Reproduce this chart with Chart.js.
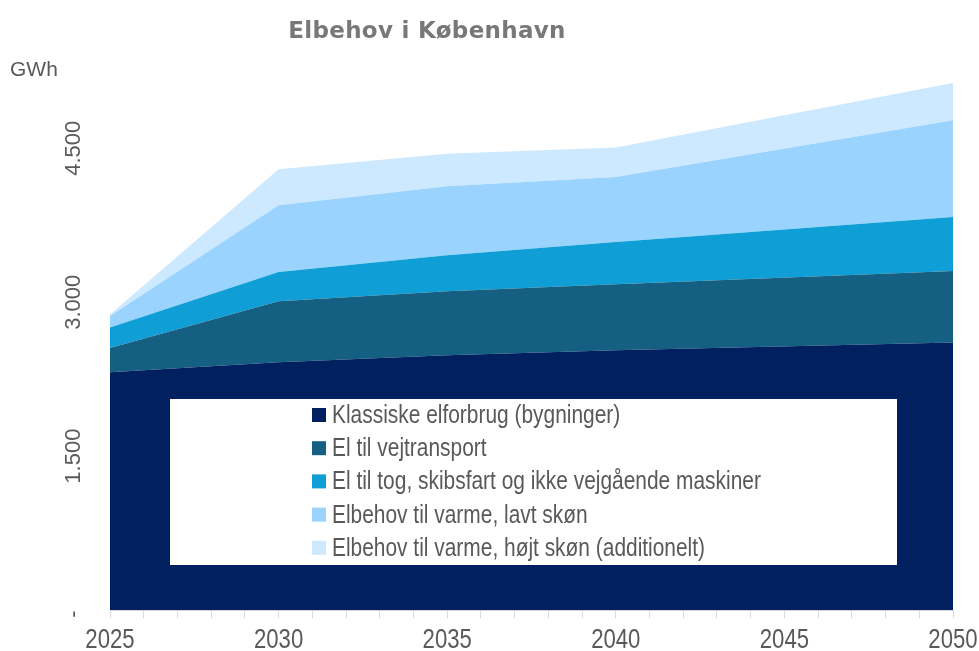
<!DOCTYPE html>
<html>
<head>
<meta charset="utf-8">
<script src="https://cdn.jsdelivr.net/npm/chart.js@4.4.1/dist/chart.umd.min.js"></script>
<style>
  html, body { margin: 0; padding: 0; background: #ffffff; }
  #wrap { position: relative; width: 979px; height: 651px; }
</style>
</head>
<body>
<div id="wrap"><canvas id="c" width="979" height="651"></canvas></div>
<script>
// ---- Data (GWh) ----
const years = [2025, 2030, 2035, 2040, 2050];
const klassiskElforbrug = [2318, 2416, 2484, 2532, 2607];
const elVejtransport = [237, 594, 623, 643, 698];
const elTogSkibsfart = [198, 285, 351, 412, 526];
const varmeLavtSkoen = [112, 650, 672, 633, 942];
const varmeHoejtSkoen = [15, 350, 318, 287, 363];
const seriesLabels = [
  "Klassiske elforbrug (bygninger)",
  "El til vejtransport",
  "El til tog, skibsfart og ikke vejgående maskiner",
  "Elbehov til varme, lavt skøn",
  "Elbehov til varme, højt skøn (additionelt)"
];
const yTickValues = [0, 1500, 3000, 4500];
const xLabelYears = [2025, 2030, 2035, 2040, 2045, 2050];
const titleText = "Elbehov i København";
const unitText = "GWh";

const colors = ["#012060", "#156082", "#0f9ed5", "#99d3fe", "#cce9ff"];
const seriesValues = [klassiskElforbrug, elVejtransport, elTogSkibsfart, varmeLavtSkoen, varmeHoejtSkoen];

function fmt(v) {
  if (v === 0) return "-";
  return String(v).replace(/\B(?=(\d{3})+(?!\d))/g, ".");
}

const datasets = seriesValues.map((vals, i) => ({
  label: seriesLabels[i],
  data: years.map((yr, j) => ({ x: yr, y: vals[j] })),
  backgroundColor: colors[i],
  borderColor: colors[i],
  borderWidth: 0,
  pointRadius: 0,
  pointHoverRadius: 0,
  tension: 0,
  fill: i === 0 ? "origin" : "-1"
}));

// draw horizontally condensed text (narrow font look)
function narrowText(ctx, text, x, y, sx, align) {
  ctx.save();
  ctx.translate(x, y);
  ctx.scale(sx, 1);
  ctx.textAlign = align;
  ctx.fillText(text, 0, 0);
  ctx.restore();
}

const overlay = {
  id: "overlay",
  afterDraw(chart) {
    const ctx = chart.ctx;
    const ys = chart.scales.y;
    const xs = chart.scales.x;
    ctx.save();
    // Title
    ctx.fillStyle = "#787878";
    ctx.font = "bold 23px 'DejaVu Sans', sans-serif";
    try { ctx.letterSpacing = "0.3px"; } catch (e) {}
    ctx.textAlign = "center";
    ctx.textBaseline = "alphabetic";
    ctx.fillText(titleText, 427, 38);
    try { ctx.letterSpacing = "0px"; } catch (e) {}
    // Unit
    ctx.fillStyle = "#595959";
    ctx.font = "21px 'Liberation Sans', Arial, sans-serif";
    ctx.textAlign = "left";
    ctx.fillText(unitText, 10, 76);
    // Y tick labels (rotated)
    ctx.font = "22px 'Liberation Sans', Arial, sans-serif";
    ctx.textAlign = "center";
    ctx.textBaseline = "middle";
    yTickValues.forEach(v => {
      const py = ys.getPixelForValue(v);
      ctx.save();
      ctx.translate(74, v === 0 ? py + 4 : py);
      ctx.rotate(-Math.PI / 2);
      ctx.fillText(fmt(v), 0, 0);
      ctx.restore();
    });
    // X tick labels
    ctx.font = "27px 'Liberation Sans', Arial, sans-serif";
    ctx.textBaseline = "alphabetic";
    ctx.fillStyle = "#595959";
    xLabelYears.forEach(yr => {
      narrowText(ctx, String(yr), xs.getPixelForValue(yr), 648, 0.82, "center");
    });
    // Legend box
    ctx.fillStyle = "#ffffff";
    ctx.fillRect(170, 399, 727, 166);
    ctx.font = "25.5px 'Liberation Sans', Arial, sans-serif";
    ctx.textBaseline = "middle";
    chart.data.datasets.forEach((ds, i) => {
      const cy = 415 + i * 33.2;
      ctx.fillStyle = ds.backgroundColor;
      ctx.fillRect(312, cy - 7, 14, 14);
      ctx.fillStyle = "#595959";
      narrowText(ctx, ds.label, 332, cy + 1, 0.82, "left");
    });
    ctx.restore();
  }
};

new Chart(document.getElementById("c"), {
  type: "line",
  data: { datasets },
  options: {
    responsive: false,
    animation: false,
    layout: { padding: { left: 0, right: 26, top: 56, bottom: 0 } },
    plugins: {
      legend: { display: false },
      title: { display: false },
      tooltip: { enabled: false }
    },
    scales: {
      x: {
        type: "linear",
        min: 2025,
        max: 2050,
        afterFit(s) { s.height = 41; },
        border: { display: true, color: "#d9d9d9", width: 1 },
        grid: { display: true, drawOnChartArea: false, drawTicks: true, tickLength: 8, color: "#d9d9d9" },
        ticks: {
          stepSize: 1,
          autoSkip: false,
          maxRotation: 0,
          minRotation: 0,
          display: false
        }
      },
      y: {
        stacked: true,
        min: 0,
        max: 5400,
        afterFit(s) { s.width = 110; },
        afterBuildTicks(s) { s.ticks = yTickValues.map(v => ({ value: v })); },
        border: { display: false },
        grid: { display: false },
        ticks: { display: false }
      }
    }
  },
  plugins: [overlay]
});
</script>
</body>
</html>
